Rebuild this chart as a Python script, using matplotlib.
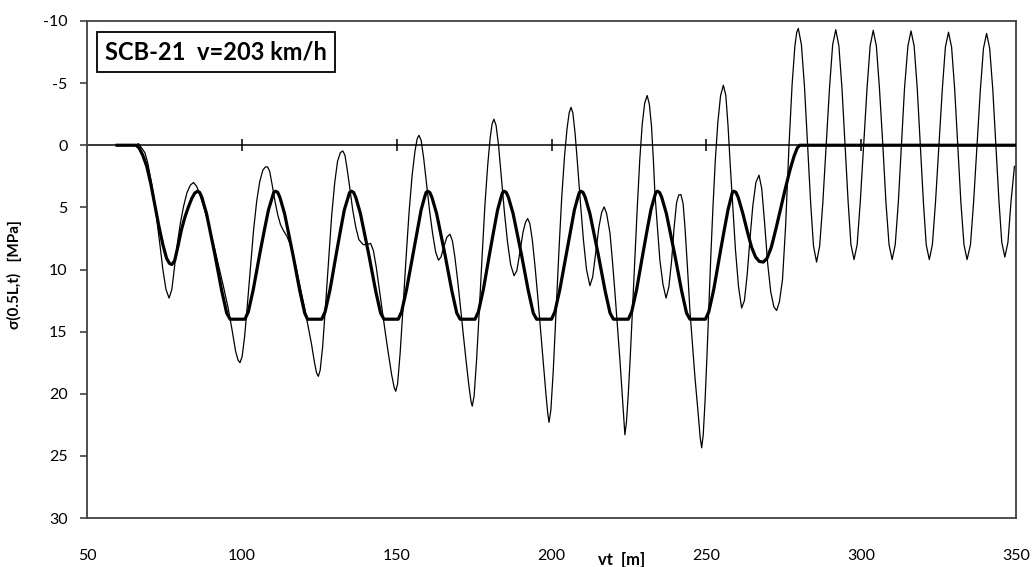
import numpy as np
import matplotlib
matplotlib.use('Agg')
import matplotlib.pyplot as plt
from matplotlib.patches import Rectangle

plt.rcParams['font.family'] = ['Lato', 'DejaVu Sans']
plt.rcParams['axes.unicode_minus'] = False

# quasi-static stress (thick line)
x_stat = [59.7, 65.8, 66.8, 68.0, 69.3, 70.6, 71.9, 73.2, 74.5, 75.7, 76.6, 77.4, 78.3, 79.4,
          80.5, 81.6, 82.7, 83.8, 84.8, 85.7,
          86.4, 87.1, 88.6, 89.9, 91.3, 93.5, 95.1, 96.2, 101.0, 102.1, 103.7, 105.9, 107.3, 108.6, 109.8, 110.3, 110.9,
          111.6, 112.3, 113.8, 115.1, 116.5, 118.7, 120.3, 121.2, 125.8, 126.9, 128.5, 130.6, 131.9, 133.1, 134.3, 134.8, 135.4,
          136.1, 136.8, 138.3, 139.6, 141.0, 143.2, 144.8, 145.9, 150.5, 151.6, 153.2, 155.4, 156.7, 157.9, 159.0, 159.5, 160.0,
          160.7, 161.4, 162.9, 164.2, 165.6, 167.8, 169.4, 170.5, 175.3, 176.4, 178.0, 180.1, 181.4, 182.6, 183.7, 184.2, 184.7,
          185.4, 186.1, 187.6, 188.9, 190.3, 192.5, 194.1, 195.2, 200.0, 201.1, 202.7, 204.9, 206.2, 207.4, 208.5, 209.0, 209.5,
          210.2, 210.9, 212.4, 213.7, 215.1, 217.3, 218.9, 220.0, 224.8, 225.9, 227.5, 229.6, 230.9, 232.1, 233.2, 233.7, 234.2,
          234.9, 235.6, 237.1, 238.4, 239.8, 242.0, 243.6, 244.7, 249.7, 250.8, 252.4, 254.5, 255.8, 257.0, 258.0, 258.4, 258.9,
          259.6, 260.3, 261.8, 263.2, 264.6, 265.9, 267.1, 268.4, 269.6, 271.0, 272.5, 274.0, 275.5, 277.0, 278.3, 279.4,
          280.2, 350.0]
y_stat = [0.0, 0.0, 0.2, 0.8, 1.7, 3.1, 4.8, 6.5, 8.0, 9.1, 9.5, 9.6, 9.3, 8.1,
          6.8, 5.8, 5.0, 4.3, 3.85, 3.7,
          3.8, 4.2, 5.5, 7.1, 8.8, 11.7, 13.5, 14.0, 14.0, 13.4, 11.6, 8.6, 6.8, 5.2, 4.2, 3.8, 3.7,
          3.8, 4.2, 5.5, 7.1, 8.8, 11.7, 13.5, 14.0, 14.0, 13.4, 11.6, 8.6, 6.8, 5.2, 4.2, 3.8, 3.7,
          3.8, 4.2, 5.5, 7.1, 8.8, 11.7, 13.5, 14.0, 14.0, 13.4, 11.6, 8.6, 6.8, 5.2, 4.2, 3.8, 3.7,
          3.8, 4.2, 5.5, 7.1, 8.8, 11.7, 13.5, 14.0, 14.0, 13.4, 11.6, 8.6, 6.8, 5.2, 4.2, 3.8, 3.7,
          3.8, 4.2, 5.5, 7.1, 8.8, 11.7, 13.5, 14.0, 14.0, 13.4, 11.6, 8.6, 6.8, 5.2, 4.2, 3.8, 3.7,
          3.8, 4.2, 5.5, 7.1, 8.8, 11.7, 13.5, 14.0, 14.0, 13.4, 11.6, 8.6, 6.8, 5.2, 4.2, 3.8, 3.7,
          3.8, 4.2, 5.5, 7.1, 8.8, 11.7, 13.5, 14.0, 14.0, 13.4, 11.6, 8.6, 6.8, 5.2, 4.2, 3.8, 3.7,
          3.8, 4.2, 5.5, 6.9, 8.2, 9.0, 9.35, 9.4, 9.1, 8.2, 6.7, 5.1, 3.5, 2.0, 0.9, 0.2,
          0.0, 0.0]

# dynamic stress (thin line)
x_dyn = [60.0, 65.5, 66.6, 67.6, 68.7, 69.6, 70.5, 71.5, 72.5, 73.5, 74.5, 75.5, 76.5,
         77.4, 78.4, 79.3, 80.2, 81.2, 82.3, 83.4, 84.4, 85.4, 86.5, 88.0, 89.5, 91.0,
         92.5, 94.0, 95.5, 96.8, 98.0, 98.8, 99.4, 100.1, 100.9, 101.8, 102.8, 103.8, 104.8,
         105.8, 106.8, 107.6, 108.3, 109.0, 109.8, 110.7, 111.6, 112.5, 113.5, 114.5, 115.5,
         116.5, 117.5, 118.5, 119.5, 120.5, 121.5, 122.5, 123.4, 124.1, 124.7, 125.3, 126.1,
         127.0, 128.0, 129.0, 130.0, 130.9, 131.8, 132.6, 133.3, 134.0, 134.9, 135.8, 136.8,
         137.8, 139.2, 140.3, 141.6, 142.5, 143.4, 144.4, 145.4, 146.4, 147.4, 148.4, 149.2,
         149.7, 150.3, 151.1, 152.0, 153.0, 154.0, 155.0, 155.9, 156.6, 157.2, 157.9, 158.7,
         159.6, 160.6, 161.6, 162.6, 163.5, 164.3, 165.2, 166.2, 167.2, 168.0, 168.8, 169.7,
         170.6, 171.5, 172.4, 173.3, 174.0, 174.4, 175.0, 175.8, 176.7, 177.6, 178.5, 179.4,
         180.2, 180.8, 181.4, 182.1, 182.9, 183.8, 184.8, 185.8, 186.8, 187.9, 188.8, 189.8,
         190.8, 191.6, 192.3, 193.0, 193.8, 194.7, 195.6, 196.5, 197.4, 198.3, 198.8, 199.2,
         199.8, 200.6, 201.5, 202.4, 203.3, 204.2, 205.0, 205.7, 206.3, 206.9, 207.6, 208.4,
         209.3, 210.3, 211.3, 212.4, 213.3, 214.3, 215.3, 216.2, 217.0, 217.8, 218.9, 219.7,
         220.5, 221.3, 222.1, 222.9, 223.7, 224.2, 224.8, 225.4, 225.9, 226.4, 226.9, 227.7,
         228.5, 229.3, 230.1, 230.9, 231.6, 232.3, 232.9, 233.4, 234.2, 235.0, 236.0, 237.0,
         237.9, 238.8, 239.6, 240.4, 241.1, 241.8, 242.5, 243.1, 243.9, 244.7, 245.5, 246.3,
         247.4, 248.0, 248.5, 249.0, 249.6, 250.2, 250.8, 251.4, 252.1, 252.9, 253.7, 254.6,
         255.5, 256.3, 257.0, 257.7, 258.5, 259.4, 260.4, 261.4, 262.3, 263.2, 264.1, 265.0,
         266.0, 267.0, 267.9, 268.8, 269.8, 270.8, 271.8, 272.7, 273.6, 274.6, 275.6, 276.7,
         277.7, 278.6, 279.2, 279.7, 280.7, 281.7, 282.7, 283.7, 284.6, 285.6, 286.6, 287.6,
         288.7, 289.8, 290.8, 291.8, 292.8, 293.8, 294.8, 295.8, 296.7, 297.7, 298.7, 299.7,
         300.8, 301.9, 302.9, 303.9, 304.9, 305.9, 307.0, 308.0, 309.0, 310.0, 311.0, 312.0,
         313.0, 314.0, 315.1, 316.1, 317.1, 318.1, 319.1, 320.1, 321.0, 322.0, 323.0, 324.0,
         325.1, 326.2, 327.2, 328.2, 329.2, 330.2, 331.2, 332.2, 333.2, 334.2, 335.3, 336.3,
         337.4, 338.5, 339.5, 340.5, 341.5, 342.5, 343.5, 344.5, 345.4, 346.4, 347.4, 348.4,
         349.5]
y_dyn = [0.0, 0.0, -0.13, 0.2, 0.6, 1.4, 2.6, 4.0, 5.9, 7.9, 10.0, 11.6, 12.3,
         11.6, 9.5, 7.7, 6.2, 4.9, 3.8, 3.2, 3.0, 3.3, 4.0, 5.2, 6.6, 8.1,
         9.7, 11.3, 13.0, 14.8, 16.6, 17.3, 17.5, 17.0, 15.4, 12.8, 9.8, 6.8, 4.5,
         2.9, 2.0, 1.75, 1.74, 2.1, 3.2, 4.5, 5.6, 6.4, 6.9, 7.3, 7.9,
         8.8, 9.8, 11.0, 12.2, 13.4, 14.7, 16.0, 17.4, 18.3, 18.6, 18.1, 16.2,
         13.0, 9.3, 5.7, 3.0, 1.3, 0.6, 0.46, 0.8, 1.9, 3.5, 5.2, 6.6,
         7.6, 8.0, 8.0, 7.9, 8.5, 9.8, 11.6, 13.4, 15.2, 16.9, 18.5, 19.5,
         19.8, 19.2, 16.8, 13.3, 9.2, 5.4, 2.4, 0.5, -0.5, -0.8, -0.4, 1.0,
         3.0, 5.2, 7.1, 8.6, 9.25, 9.0, 8.2, 7.4, 7.16, 7.7, 9.0, 10.9,
         13.0, 15.2, 17.3, 19.3, 20.6, 21.0, 20.2, 17.3, 13.2, 8.9, 4.8, 1.6,
         -0.6, -1.7, -2.1, -1.6, 0.0, 2.6, 5.4, 7.8, 9.6, 10.5, 10.1, 8.6,
         7.0, 6.2, 5.9, 6.3, 7.6, 9.8, 12.3, 15.0, 17.7, 20.3, 21.6, 22.3,
         21.3, 18.0, 13.3, 8.5, 4.2, 0.9, -1.3, -2.6, -3.05, -2.6, -1.0, 1.5,
         4.5, 7.6, 10.0, 11.3, 10.6, 8.6, 6.6, 5.4, 4.96, 5.5, 7.1, 9.4,
         11.9, 14.6, 17.3, 20.3, 23.3, 22.3, 20.0, 17.2, 14.6, 11.9, 9.25, 5.0,
         1.2, -1.7, -3.4, -4.0, -3.3, -1.5, 1.2, 3.9, 6.6, 9.25, 11.2, 12.3,
         11.4, 9.25, 6.6, 4.6, 4.0, 3.97, 4.7, 6.6, 9.8, 13.3, 16.0, 18.6,
         21.7, 23.5, 24.35, 23.3, 20.5, 17.0, 13.0, 9.2, 5.2, 1.2, -1.8, -4.0,
         -4.83, -4.0, -1.6, 1.5, 4.8, 8.4, 11.4, 13.1, 12.5, 10.4, 7.5, 4.9,
         3.0, 2.41, 3.5, 6.2, 9.5, 11.8, 13.0, 13.3, 12.6, 10.8, 6.5, 0.0,
         -4.9, -8.0, -9.1, -9.4, -8.1, -4.7, 0.0, 4.7, 8.1, 9.4, 8.1, 4.7,
         0.0, -4.7, -8.1, -9.3, -8.0, -4.6, 0.0, 4.6, 8.0, 9.2, 8.0, 4.6,
         0.0, -4.6, -8.0, -9.25, -8.0, -4.6, 0.0, 4.6, 8.0, 9.2, 8.0, 4.6,
         0.0, -4.6, -8.0, -9.2, -8.0, -4.6, 0.0, 4.6, 8.0, 9.2, 8.0, 4.6,
         0.0, -4.5, -7.9, -9.1, -7.9, -4.5, 0.0, 4.6, 8.0, 9.2, 8.0, 4.6,
         0.0, -4.5, -7.8, -9.0, -7.8, -4.5, 0.0, 4.5, 7.8, 9.0, 7.8, 4.5,
         1.7]

x_ticks = [50, 100, 150, 200, 250, 300, 350]
y_ticks = [-10, -5, 0, 5, 10, 15, 20, 25, 30]
zero_marks = [100, 150, 200, 250, 300]

fig = plt.figure(figsize=(10.33, 5.67), dpi=100)
ax = fig.add_axes([87 / 1033, 49 / 567, 929 / 1033, 497 / 567])

ax.plot(x_dyn, y_dyn, color='k', lw=0.9, zorder=3)
ax.plot(x_stat, y_stat, color='k', lw=2.3, zorder=4, solid_joinstyle='round')

# zero line with cross ticks
ax.axhline(0, color='k', lw=1.1, zorder=2)
ax.plot(zero_marks, np.zeros(len(zero_marks)), ls='none', marker='|', ms=9, mew=1.1, color='k', zorder=2)

ax.set_xlim(50, 350)
ax.set_ylim(30, -10)
ax.set_xticks(x_ticks)
ax.set_yticks(y_ticks)
ax.tick_params(axis='x', length=0, pad=22, labelsize=11.5)
ax.tick_params(axis='y', length=5, width=1.2, color='#404040', pad=9, labelsize=11.5)
for s in ax.spines.values():
    s.set_color('#404040')
    s.set_linewidth(1.3)

# title box
ax.add_patch(Rectangle((0.0108, 0.897), 0.256, 0.081, transform=ax.transAxes,
                       fill=False, edgecolor='k', lw=1.3, zorder=5))
ax.text(0.0108 + 0.128, 0.9375, 'SCB-21  v=203 km/h', transform=ax.transAxes,
        ha='center', va='center', fontsize=17, fontweight='bold', zorder=6)

fig.text(14 / 1033, 1 - 275 / 567, 'σ(0.5L,t)   [MPa]', rotation=90, ha='center', va='center',
         fontsize=11, fontweight='bold')
fig.text(622 / 1033, 1 - 568 / 567, 'vt  [m]', ha='center', va='bottom', fontsize=12, fontweight='bold')

fig.savefig('out.png', dpi=100)
